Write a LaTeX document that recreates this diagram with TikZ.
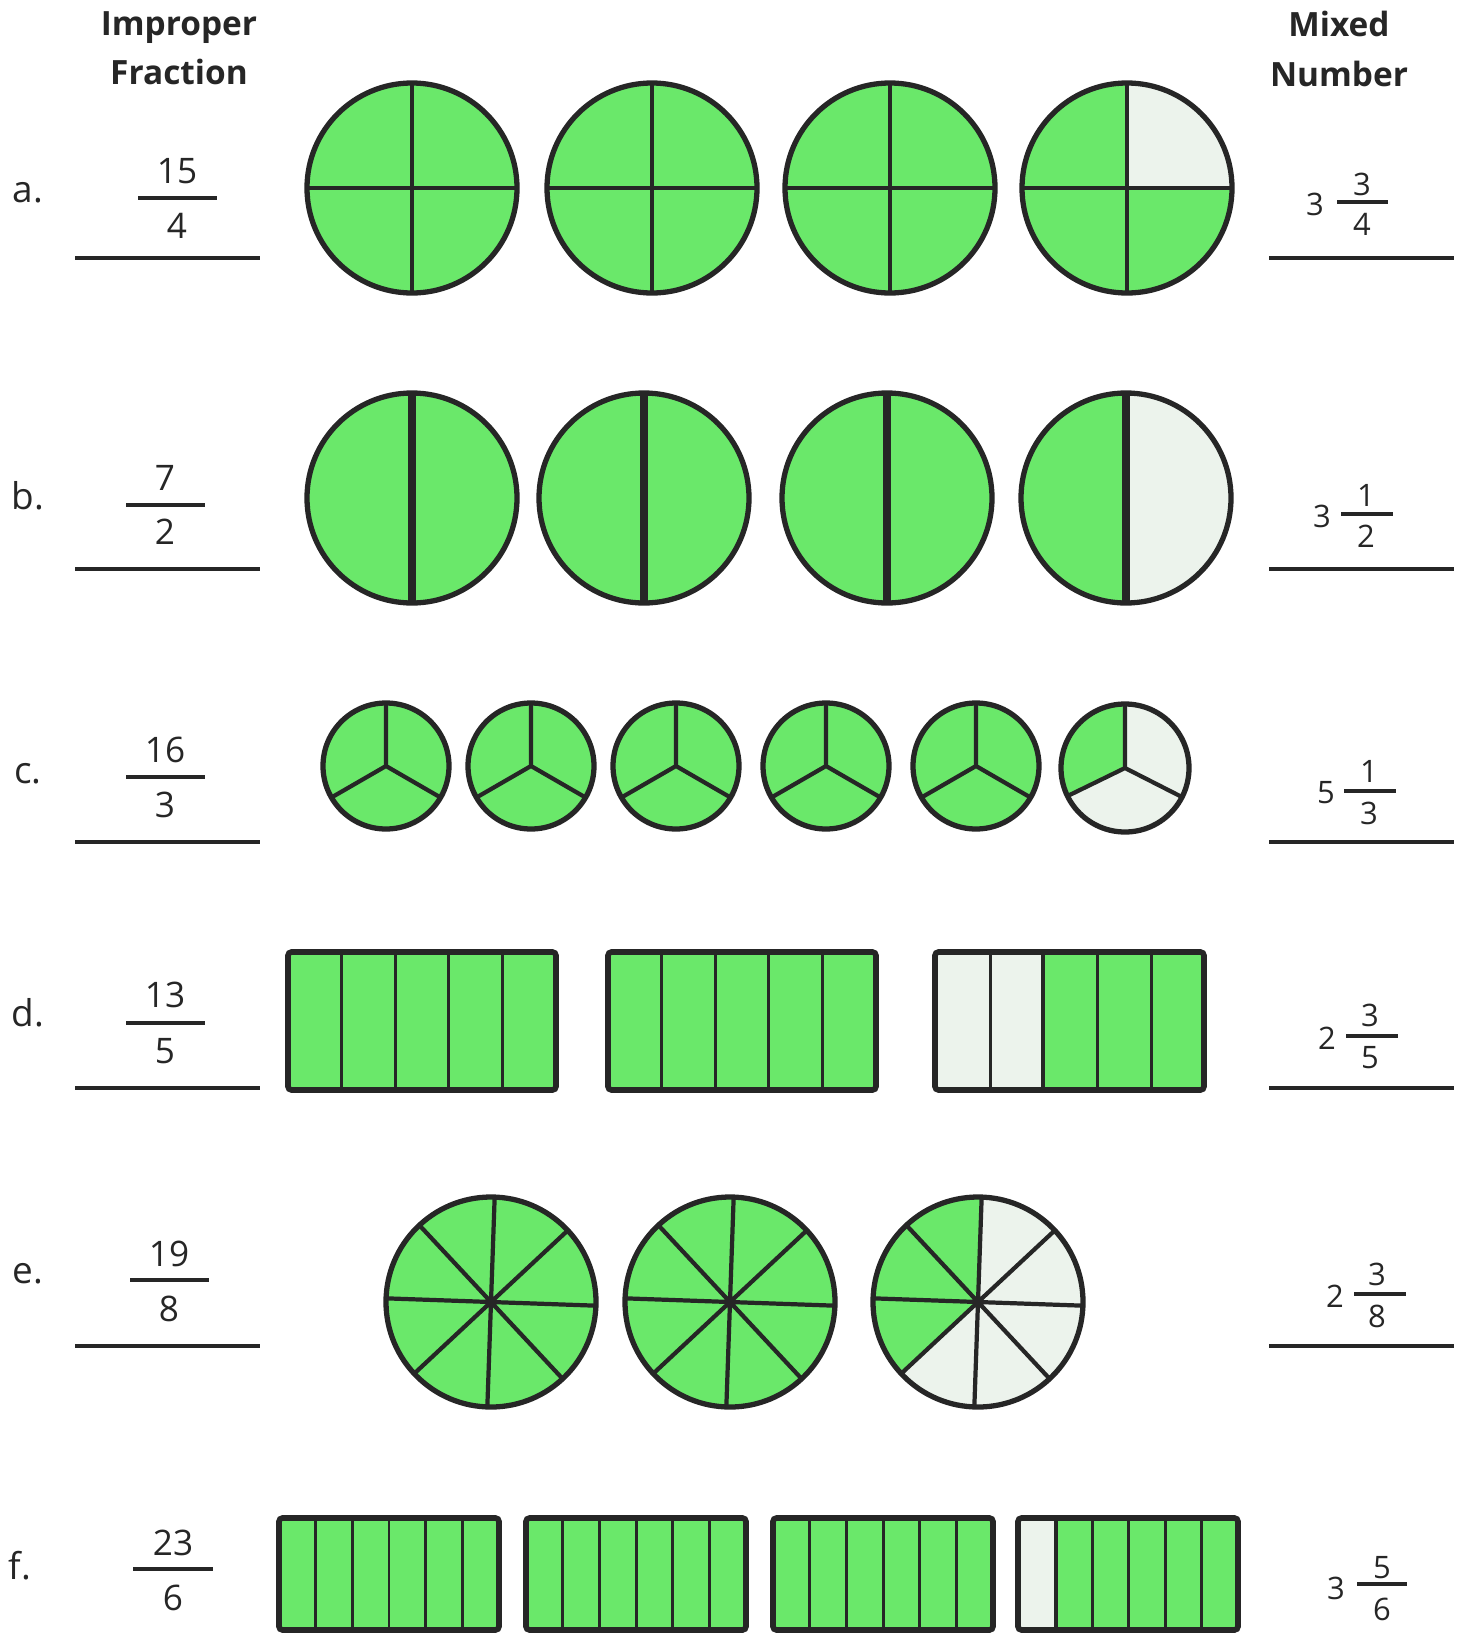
\documentclass[tikz,border=0pt]{standalone}
\usepackage{fontspec}
\setmainfont{Open Sans}
\usepackage{tikz}

\definecolor{leaf}{RGB}{106,232,106}
\definecolor{blank}{RGB}{236,243,236}
\definecolor{ink}{RGB}{38,38,38}

\begin{document}
\begin{tikzpicture}[x=0.01cm, y=-0.01cm,
  rim/.style={draw=ink, line width=1.5pt},
  cut/.style={draw=ink, line width=1.2pt},
  thick cut/.style={draw=ink, line width=2pt},
  strip/.style={draw=ink, line width=0.85pt},
  box/.style={draw=ink, line width=1.6pt, rounded corners=1pt},
  bar/.style={draw=ink, line width=1.1pt},
  answer/.style={draw=ink, line width=0.9pt},
  num/.style={font=\fontsize{10}{12}\selectfont, text=ink, inner sep=0pt},
  mixed/.style={font=\fontsize{8.8}{10}\selectfont, text=ink, inner sep=0pt},
  tag/.style={font=\fontsize{10.5}{12}\selectfont, text=ink, anchor=base, inner sep=0pt},
  head/.style={font=\bfseries\fontsize{9.5}{14}\selectfont, text=ink, align=center, inner sep=0pt}]

  \useasboundingbox (0,0) rectangle (1464,1633);

  \node[head] (hdimp) at (179,48) {Improper\\Fraction};
  \node[head] (hdmix) at (1339,49) {Mixed\\Number};

  % a.
  \node[tag] (la) at (28,202) {a.};
  \node[num] (na) at (177,171) {15};
  \node[num] (da) at (177,226) {4};
  \draw[bar] (138,198) -- (217,198);
  \draw[answer] (75,258) -- (260,258);
  \draw[answer] (1269,258) -- (1454,258);
  \node[mixed] (wa) at (1315,204) {3};
  \node[mixed] (ma) at (1362,184) {3};
  \node[mixed] (ka) at (1362,224) {4};
  \draw[bar] (1337,202) -- (1388,202);

  \fill[leaf] (412,188) circle (105);
  \draw[cut] (307,188) -- (517,188) (412,83) -- (412,293);
  \draw[rim] (412,188) circle (105);
  \fill[leaf] (652,188) circle (105);
  \draw[cut] (547,188) -- (757,188) (652,83) -- (652,293);
  \draw[rim] (652,188) circle (105);
  \fill[leaf] (890,188) circle (105);
  \draw[cut] (785,188) -- (995,188) (890,83) -- (890,293);
  \draw[rim] (890,188) circle (105);
  \fill[leaf] (1127,188) circle (105);
  \fill[blank] (1127,188) -- ++(0:105) arc[start angle=0, end angle=-90, radius=105] -- cycle;
  \draw[cut] (1022,188) -- (1232,188) (1127,83) -- (1127,293);
  \draw[rim] (1127,188) circle (105);

  % b.
  \node[tag] (lb) at (28,509) {b.};
  \node[num] (nb) at (165,478) {7};
  \node[num] (db) at (165,532) {2};
  \draw[bar] (126,505) -- (205,505);
  \draw[answer] (75,569) -- (260,569);
  \draw[answer] (1269,569) -- (1454,569);
  \node[mixed] (wb) at (1322,516) {3};
  \node[mixed] (mb) at (1366,495) {1};
  \node[mixed] (kb) at (1366,536) {2};
  \draw[bar] (1341,514) -- (1393,514);

  \fill[leaf] (412,498) circle (105);
  \draw[thick cut] (412,393) -- (412,603);
  \draw[rim] (412,498) circle (105);
  \fill[leaf] (644,498) circle (105);
  \draw[thick cut] (644,393) -- (644,603);
  \draw[rim] (644,498) circle (105);
  \fill[leaf] (887,498) circle (105);
  \draw[thick cut] (887,393) -- (887,603);
  \draw[rim] (887,498) circle (105);
  \fill[leaf] (1126,498) circle (105);
  \fill[blank] (1126,498) -- ++(90:105) arc[start angle=90, end angle=-90, radius=105] -- cycle;
  \draw[thick cut] (1126,393) -- (1126,603);
  \draw[rim] (1126,498) circle (105);

  % c.
  \node[tag] (lc) at (28,783) {c.};
  \node[num] (nc) at (165,750) {16};
  \node[num] (dc) at (165,805) {3};
  \draw[bar] (126,777) -- (205,777);
  \draw[answer] (75,842) -- (260,842);
  \draw[answer] (1269,842) -- (1454,842);
  \node[mixed] (wc) at (1326,793) {5};
  \node[mixed] (mc) at (1369,771) {1};
  \node[mixed] (kc) at (1369,813) {3};
  \draw[bar] (1344,791) -- (1396,791);

  \fill[leaf] (386,766) circle (63);
  \draw[cut] (386,766) -- ++(270:63) (386,766) -- ++(150:63) (386,766) -- ++(30:63);
  \draw[rim] (386,766) circle (63);
  \fill[leaf] (531,766) circle (63);
  \draw[cut] (531,766) -- ++(270:63) (531,766) -- ++(150:63) (531,766) -- ++(30:63);
  \draw[rim] (531,766) circle (63);
  \fill[leaf] (676,766) circle (63);
  \draw[cut] (676,766) -- ++(270:63) (676,766) -- ++(150:63) (676,766) -- ++(30:63);
  \draw[rim] (676,766) circle (63);
  \fill[leaf] (826,766) circle (63);
  \draw[cut] (826,766) -- ++(270:63) (826,766) -- ++(150:63) (826,766) -- ++(30:63);
  \draw[rim] (826,766) circle (63);
  \fill[leaf] (976,766) circle (63);
  \draw[cut] (976,766) -- ++(270:63) (976,766) -- ++(150:63) (976,766) -- ++(30:63);
  \draw[rim] (976,766) circle (63);
  \fill[blank] (1125,768) circle (64);
  \fill[leaf] (1125,768) -- ++(154:64) arc[start angle=154, end angle=270, radius=64] -- cycle;
  \draw[cut] (1125,768) -- ++(270:64) (1125,768) -- ++(154:64) (1125,768) -- ++(27:64);
  \draw[rim] (1125,768) circle (64);

  % d.
  \node[tag] (ld) at (28,1026) {d.};
  \node[num] (nd) at (165,995) {13};
  \node[num] (dd) at (165,1051) {5};
  \draw[bar] (126,1023) -- (205,1023);
  \draw[answer] (75,1088) -- (260,1088);
  \draw[answer] (1269,1088) -- (1454,1088);
  \node[mixed] (wd) at (1327,1038) {2};
  \node[mixed] (md) at (1370,1015) {3};
  \node[mixed] (kd) at (1370,1058) {5};
  \draw[bar] (1346,1036) -- (1398,1036);

  \fill[leaf] (288,952) rectangle (556,1090);
  \draw[strip] (341.6,952) -- (341.6,1090) (395.2,952) -- (395.2,1090)
    (448.8,952) -- (448.8,1090) (502.4,952) -- (502.4,1090);
  \draw[box] (288,952) rectangle (556,1090);
  \fill[leaf] (608,952) rectangle (876,1090);
  \draw[strip] (661.6,952) -- (661.6,1090) (715.2,952) -- (715.2,1090)
    (768.8,952) -- (768.8,1090) (822.4,952) -- (822.4,1090);
  \draw[box] (608,952) rectangle (876,1090);
  \fill[blank] (935,952) rectangle (1043,1090);
  \fill[leaf] (1043,952) rectangle (1204,1090);
  \draw[strip] (990,952) -- (990,1090) (1097,952) -- (1097,1090) (1151,952) -- (1151,1090);
  \draw[cut] (1043,952) -- (1043,1090);
  \draw[box] (935,952) rectangle (1204,1090);

  % e.
  \node[tag] (le) at (28,1283) {e.};
  \node[num] (ne) at (169,1254) {19};
  \node[num] (de) at (169,1309) {8};
  \draw[bar] (130,1280) -- (209,1280);
  \draw[answer] (75,1346) -- (260,1346);
  \draw[answer] (1269,1346) -- (1454,1346);
  \node[mixed] (we) at (1335,1296) {2};
  \node[mixed] (me) at (1377,1274) {3};
  \node[mixed] (ke) at (1377,1316) {8};
  \draw[bar] (1354,1294) -- (1406,1294);

  \fill[leaf] (491,1302) circle (105);
  \draw[cut] (491,1302) ++(2:105) -- ++(182:210) (491,1302) ++(47:105) -- ++(227:210)
    (491,1302) ++(92:105) -- ++(272:210) (491,1302) ++(137:105) -- ++(317:210);
  \draw[rim] (491,1302) circle (105);
  \fill[leaf] (730,1302) circle (105);
  \draw[cut] (730,1302) ++(2:105) -- ++(182:210) (730,1302) ++(47:105) -- ++(227:210)
    (730,1302) ++(92:105) -- ++(272:210) (730,1302) ++(137:105) -- ++(317:210);
  \draw[rim] (730,1302) circle (105);
  \fill[blank] (978,1302) circle (105);
  \fill[leaf] (978,1302) -- ++(137:105) arc[start angle=137, end angle=272, radius=105] -- cycle;
  \draw[cut] (978,1302) ++(2:105) -- ++(182:210) (978,1302) ++(47:105) -- ++(227:210)
    (978,1302) ++(92:105) -- ++(272:210) (978,1302) ++(137:105) -- ++(317:210);
  \draw[rim] (978,1302) circle (105);

  % f.
  \node[tag] (lf) at (20,1579) {f.};
  \node[num] (nf) at (173,1543) {23};
  \node[num] (df) at (173,1598) {6};
  \draw[bar] (133,1569) -- (213,1569);
  \node[mixed] (wf) at (1336,1588) {3};
  \node[mixed] (mf) at (1382,1568) {5};
  \node[mixed] (kf) at (1382,1609) {6};
  \draw[bar] (1357,1584) -- (1407,1584);

  \fill[leaf] (279,1518) rectangle (499,1630);
  \draw[strip] (315.7,1518) -- (315.7,1630) (352.3,1518) -- (352.3,1630) (389,1518) -- (389,1630)
    (425.7,1518) -- (425.7,1630) (462.3,1518) -- (462.3,1630);
  \draw[box] (279,1518) rectangle (499,1630);
  \fill[leaf] (526,1518) rectangle (746,1630);
  \draw[strip] (562.7,1518) -- (562.7,1630) (599.3,1518) -- (599.3,1630) (636,1518) -- (636,1630)
    (672.7,1518) -- (672.7,1630) (709.3,1518) -- (709.3,1630);
  \draw[box] (526,1518) rectangle (746,1630);
  \fill[leaf] (773,1518) rectangle (993,1630);
  \draw[strip] (809.7,1518) -- (809.7,1630) (846.3,1518) -- (846.3,1630) (883,1518) -- (883,1630)
    (919.7,1518) -- (919.7,1630) (956.3,1518) -- (956.3,1630);
  \draw[box] (773,1518) rectangle (993,1630);
  \fill[blank] (1018,1518) rectangle (1056,1630);
  \fill[leaf] (1056,1518) rectangle (1238,1630);
  \draw[strip] (1092,1518) -- (1092,1630) (1128.5,1518) -- (1128.5,1630)
    (1165,1518) -- (1165,1630) (1201.5,1518) -- (1201.5,1630);
  \draw[cut] (1056,1518) -- (1056,1630);
  \draw[box] (1018,1518) rectangle (1238,1630);
\end{tikzpicture}
\end{document}
